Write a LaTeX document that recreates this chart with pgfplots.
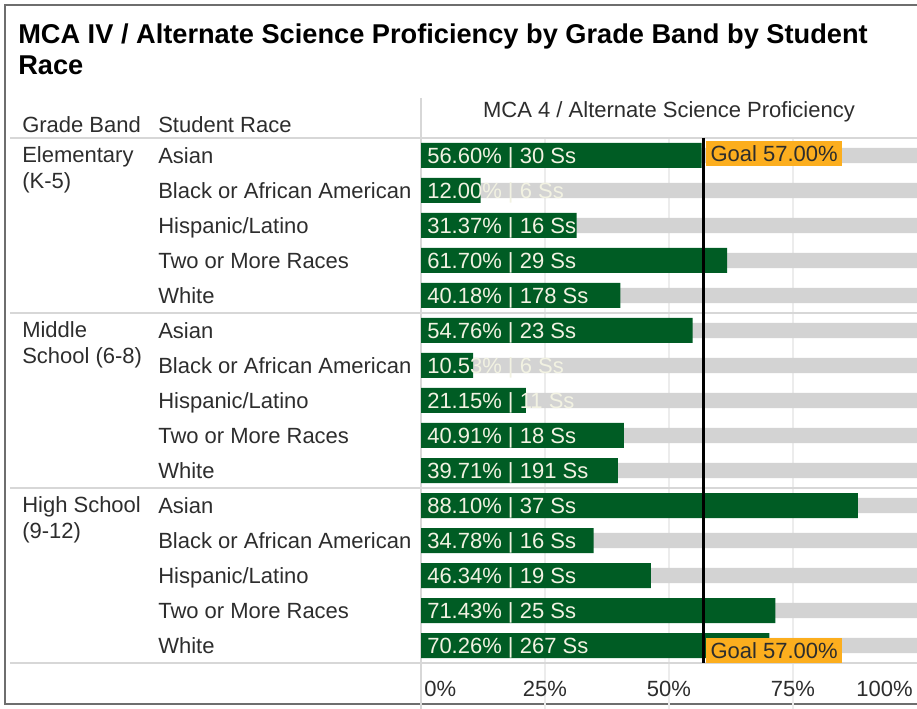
\documentclass[border=0pt]{standalone}
\usepackage{fontspec}
\setmainfont{Liberation Sans}
\usepackage{pgfplots}
\usepackage{pgfplotstable}
\pgfplotsset{compat=1.18}

\definecolor{barfg}{RGB}{0,92,36}
\definecolor{barbg}{RGB}{211,211,211}
\definecolor{goalc}{RGB}{252,174,30}
\definecolor{textdark}{RGB}{45,45,45}
\definecolor{labelc}{RGB}{242,242,226}
\definecolor{sepc}{RGB}{215,215,215}
\definecolor{gridc}{RGB}{236,236,236}
\definecolor{framec}{RGB}{110,110,110}

\newcommand\fs{\fontsize{16.5pt}{19pt}\selectfont}
\newcommand\tfs{\fontsize{20.4pt}{24pt}\selectfont\bfseries}

\pgfplotstableread{
row v n bg zero
0 56.60 30 100 0
1 12.00 6 100 0
2 31.37 16 100 0
3 61.70 29 100 0
4 40.18 178 100 0
5 54.76 23 100 0
6 10.53 6 100 0
7 21.15 11 100 0
8 40.91 18 100 0
9 39.71 191 100 0
10 88.10 37 100 0
11 34.78 16 100 0
12 46.34 19 100 0
13 71.43 25 100 0
14 70.26 267 100 0
}\data

\begin{document}
\begin{tikzpicture}[x=0.75pt,y=0.75pt]
\useasboundingbox (0,0) rectangle (917,709);
% frame
\begin{scope}
\clip (0,0) rectangle (917,709);
\draw[framec, line width=1.6pt] (5,5) rectangle (940,704);
\end{scope}
% title
\node[anchor=base west, inner sep=0pt, font=\tfs, text=black] at (18,709-44) {MCA IV / Alternate Science Proficiency by Grade Band by Student};
\node[anchor=base west, inner sep=0pt, font=\tfs, text=black] at (18,709-75) {Race};
% headers
\node[anchor=base west, inner sep=0pt, font=\fs, text=textdark] at (22,709-133) {Grade Band};
\node[anchor=base west, inner sep=0pt, font=\fs, text=textdark] at (158,709-133) {Student Race};
\node[anchor=base, inner sep=0pt, font=\fs, text=textdark] at (669,709-118) {MCA 4 / Alternate Science Proficiency};
% grid lines
\foreach \gx in {545,669,793} {\draw[gridc, line width=1pt] (\gx,709-138) -- (\gx,0);}
% separators
\draw[sepc, line width=1.3pt] (421,709-98) -- (421,0);
\foreach \sy in {138,313,488,663} {\draw[sepc, line width=1.3pt] (10,709-\sy) -- (917,709-\sy);}
% row labels
\foreach \lab [count=\i from 0] in {Asian,Black or African American,Hispanic/Latino,Two or More Races,White,Asian,Black or African American,Hispanic/Latino,Two or More Races,White,Asian,Black or African American,Hispanic/Latino,Two or More Races,White} {
  \node[anchor=base west, inner sep=0pt, font=\fs, text=textdark] at (158,{709-(163.3+35*\i)}) {\lab};
}
% grade band labels
\node[anchor=base west, inner sep=0pt, font=\fs, text=textdark] at (22,709-163) {Elementary};
\node[anchor=base west, inner sep=0pt, font=\fs, text=textdark] at (22,709-189) {(K-5)};
\node[anchor=base west, inner sep=0pt, font=\fs, text=textdark] at (22,709-338) {Middle};
\node[anchor=base west, inner sep=0pt, font=\fs, text=textdark] at (22,709-364) {School (6-8)};
\node[anchor=base west, inner sep=0pt, font=\fs, text=textdark] at (22,709-513) {High School};
\node[anchor=base west, inner sep=0pt, font=\fs, text=textdark] at (22,709-539) {(9-12)};
% tick labels
\node[anchor=base west, inner sep=0pt, font=\fs, text=textdark] at (424,709-697) {0\%};
\node[anchor=base, inner sep=0pt, font=\fs, text=textdark] at (545,709-697) {25\%};
\node[anchor=base, inner sep=0pt, font=\fs, text=textdark] at (669,709-697) {50\%};
\node[anchor=base, inner sep=0pt, font=\fs, text=textdark] at (793,709-697) {75\%};
\node[anchor=base east, inner sep=0pt, font=\fs, text=textdark] at (913,709-697) {100\%};

\begin{axis}[
  at={(315.75pt,34.5pt)}, anchor=south west,
  width=372pt, height=393.75pt, scale only axis,
  xmin=0, xmax=100, ymin=-0.5, ymax=14.5, y dir=reverse,
  axis line style={draw=none}, xtick=\empty, ytick=\empty,
  clip=false,
]
\addplot[xbar, bar shift=0pt, bar width=11.5pt, fill=barbg, draw=none] table[x=bg,y=row]{\data};
\addplot[xbar, bar shift=0pt, bar width=18.75pt, fill=barfg, draw=none] table[x=v,y=row]{\data};
\addplot[only marks, mark=*, mark size=0pt, draw=none, fill=none,
  point meta=explicit,
  visualization depends on={\thisrow{n}\as\nss},
  nodes near coords={\pgfmathprintnumber[fixed,fixed zerofill,precision=2,assume math mode=true]{\pgfplotspointmeta}\%~|~\pgfmathprintnumber[fixed,precision=0,assume math mode=true]{\nss}~Ss},
  nodes near coords style={anchor=base west, inner sep=0pt, xshift=4.5pt, yshift=-5.9pt, text=labelc, font=\fs}]
  table[x=zero, y=row, meta=v]{\data};
\addplot[black, line width=1.9pt, no marks] coordinates {(57,-0.5) (57,14.5)};
\node[fill=goalc, anchor=west, inner xsep=3.5pt, inner ysep=0pt, minimum height=19pt, text height=11.8pt, text depth=0pt, font=\fs, text=textdark, xshift=1.4pt, yshift=1.5pt] at (axis cs:57,0) {Goal 57.00\%};
\node[fill=goalc, anchor=west, inner xsep=3.5pt, inner ysep=0pt, minimum height=19pt, text height=11.8pt, text depth=0pt, font=\fs, text=textdark, xshift=1.4pt, yshift=-3.5pt] at (axis cs:57,14) {Goal 57.00\%};
\end{axis}
\end{tikzpicture}
\end{document}
